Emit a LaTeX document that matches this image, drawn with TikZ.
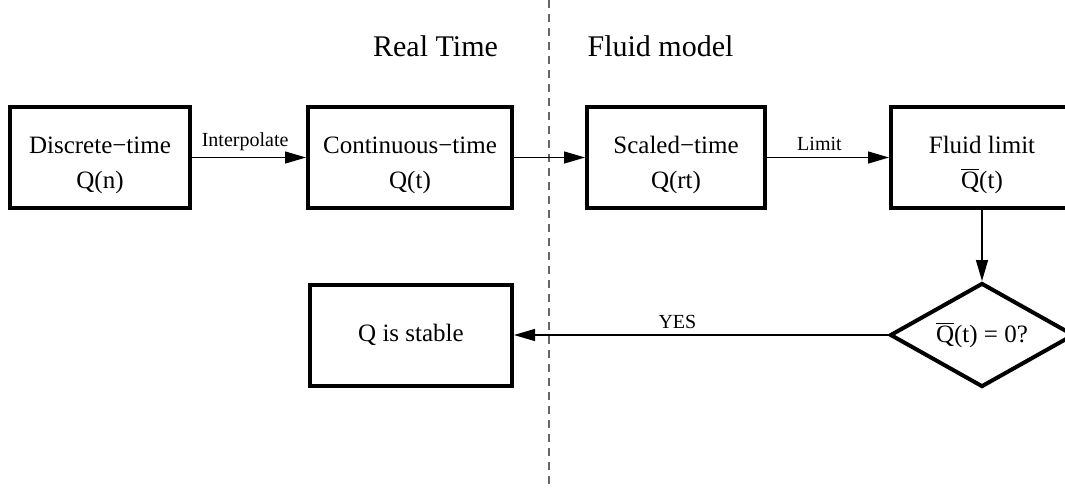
\documentclass[tikz,border=0pt]{standalone}
\usepackage{fontspec}
\setmainfont{Liberation Serif}
\usetikzlibrary{shapes.geometric,arrows.meta}
\newcommand{\qbar}{$\overline{\hbox{Q}}$}
\newcommand{\lowstrut}{\rule{0pt}{16pt}}

\begin{document}
\begin{tikzpicture}[x=0.5pt,y=-0.5pt,
  box/.style={rectangle,draw,line width=2pt,minimum height=50.5pt,inner sep=0pt,
    align=center,font=\fontsize{12.5}{17.5}\selectfont},
  test/.style={diamond,draw,line width=2pt,minimum width=92pt,minimum height=52pt,
    inner sep=0pt,aspect=1.77,font=\fontsize{12.5}{15}\selectfont},
  arr/.style={-{Triangle[length=10.5pt,width=6pt]},line width=0.65pt},
  lbl/.style={font=\fontsize{10}{12}\selectfont,above,inner sep=3pt},
  head/.style={font=\fontsize{15}{18}\selectfont,anchor=base}]
\useasboundingbox (0,0) rectangle (1065,489);

% the two halves
\draw[gray!80!black,line width=0.75pt,dash pattern=on 4pt off 3pt] (549,0) -- (549,489);
\path (435.5,56) node[head] (real) {Real Time};
\path (660.5,56) node[head] (fluid) {Fluid model};

\path (100,157.5) node[box,minimum width=90pt] (disc) {\lowstrut Discrete−time\\Q(n)};
\path (410,157.5) node[box,minimum width=102pt] (cont) {\lowstrut Continuous−time\\Q(t)};
\draw[arr] (disc) -- node[lbl,pos=0.466]{Interpolate} (cont);

\path (676,157.5) node[box,minimum width=89pt] (scal) {\lowstrut Scaled−time\\Q(rt)};
\draw[arr] (cont) -- (scal);

\path (982,157.5) node[box,minimum width=91pt] (lim) {\lowstrut Fluid limit\\\qbar(t)};
\draw[arr] (scal) -- node[lbl,pos=0.43]{Limit} (lim);

\path (982,335) node[test] (zero) {\qbar(t) = 0?};
\draw[arr] (lim) -- (zero);

\path (411,335) node[box,minimum width=101pt] (stab) {Q is stable};
\draw[arr] (zero) -- node[lbl,pos=0.563]{YES} (stab);
\end{tikzpicture}
\end{document}
